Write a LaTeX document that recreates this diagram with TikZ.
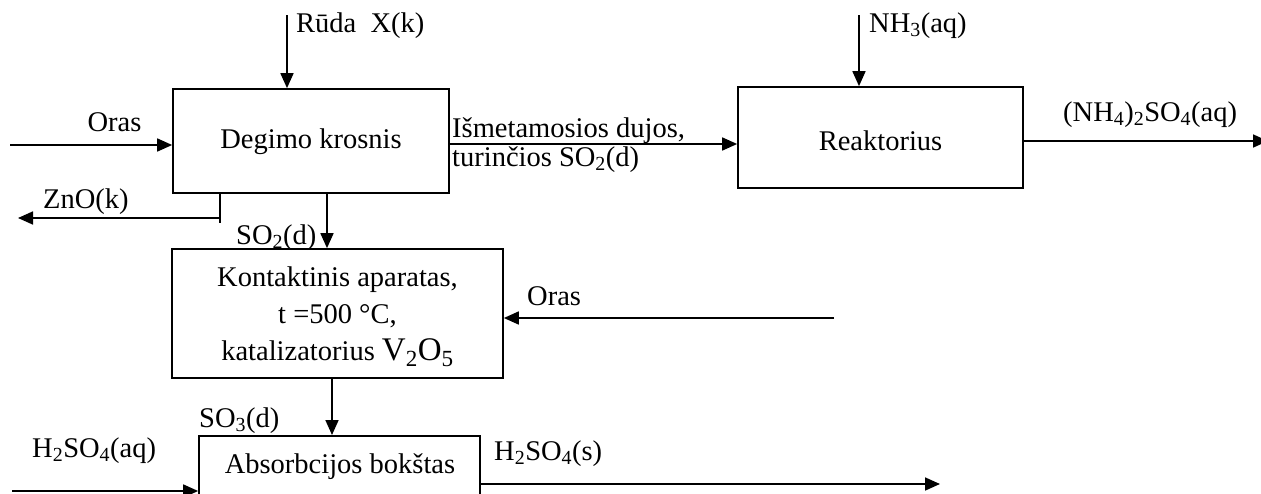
\documentclass[tikz,border=0pt]{standalone}
\usepackage{fontspec}
\setmainfont{Liberation Serif}
\usetikzlibrary{arrows.meta,calc}
\tikzset{
  box/.style={draw, line width=1.7pt, rectangle, inner sep=0pt, align=center},
  arr/.style={line width=1.7pt, -{Triangle[length=15pt,width=13pt]}},
  ln/.style={line width=1.7pt},
  lbl/.style={inner sep=0pt, anchor=base west},
}
\begin{document}
\begin{tikzpicture}[x=1pt,y=-1pt,font=\fontsize{28.5}{37}\selectfont]
\useasboundingbox (0,0) rectangle (1261,493);
\clip (0,0) rectangle (1261,493);
% boxes
\node[box, minimum width=276pt, minimum height=104pt] (deg) at (311,141) {};
\node[lbl, anchor=base] (degt) at (311,148) {Degimo krosnis};
\node[box, minimum width=285pt, minimum height=101pt] (rea) at (880.5,137.5) {};
\node[lbl, anchor=base] (reat) at (880.5,150) {Reaktorius};
\node[box, minimum width=331pt, minimum height=129pt] (kon) at (337.5,313.5) {};
\node[inner sep=0pt, anchor=base, align=center] (kont) at (337.5,360)
  {Kontaktinis aparatas,\\ t =500 °C,\\ katalizatorius {\fontsize{33}{37}\selectfont V\textsubscript{2}O\textsubscript{5}}};
\node[box, minimum width=281pt, minimum height=120pt, anchor=north] (abs) at (339.5,435) {};
\node[lbl, anchor=base] (abst) at (340,473) {Absorbcijos bokštas};
% free ends
\coordinate (ruda) at (287,15);
\coordinate (nh3) at (859,15);
\coordinate (orasL) at (10,145);
\coordinate (znoE) at (18,218);
\coordinate (nh4E) at (1268,141);
\coordinate (orasR) at (834,318);
\coordinate (h2aq) at (12,491);
\coordinate (h2s) at (940,484);
\coordinate (ism) at ($(deg.east)+(0,3)$);
\coordinate (znoT) at ($(deg.south west)+(48,0)$);
\coordinate (so2) at ([xshift=16pt]deg.south);
\coordinate (so3) at ([xshift=-5.5pt]kon.south);
% connectors
\draw[arr] (ruda) -- (ruda |- deg.north);
\draw[arr] (nh3) -- (nh3 |- rea.north);
\draw[arr] (orasL) -- (orasL -| deg.west);
\draw[ln] (znoT) -- ++(0,29);
\draw[arr] (znoT |- znoE) -- (znoE);
\draw[arr] (so2) -- (so2 |- kon.north);
\draw[arr] (ism) -- (ism -| rea.west);
\draw[arr] (rea.east |- nh4E) -- (nh4E);
\draw[arr] (orasR) -- (orasR -| kon.east);
\draw[arr] (so3) -- (so3 |- abs.north);
\draw[arr] (h2aq) -- (h2aq -| abs.west);
\draw[arr] (abs.east |- h2s) -- (h2s);
% labels
\node[lbl] (l1) at (296,32) {Rūda\ \ X(k)};
\node[lbl] (l2) at (869,32) {NH\textsubscript{3}(aq)};
\node[lbl, anchor=base] (l3) at (114.5,131) {Oras};
\node[lbl] (l4) at (43,208) {ZnO(k)};
\node[lbl] (l5) at (236,244) {SO\textsubscript{2}(d)};
\node[lbl] (l6) at (452,137) {Išmetamosios dujos,};
\node[lbl] (l7) at (452,166) {turinčios SO\textsubscript{2}(d)};
\node[lbl] (l8) at (1063,121) {(NH\textsubscript{4})\textsubscript{2}SO\textsubscript{4}(aq)};
\node[lbl] (l9) at (527,305) {Oras};
\node[lbl] (l10) at (199,427) {SO\textsubscript{3}(d)};
\node[lbl] (l11) at (32,457) {H\textsubscript{2}SO\textsubscript{4}(aq)};
\node[lbl] (l12) at (494,460) {H\textsubscript{2}SO\textsubscript{4}(s)};
\end{tikzpicture}
\end{document}
